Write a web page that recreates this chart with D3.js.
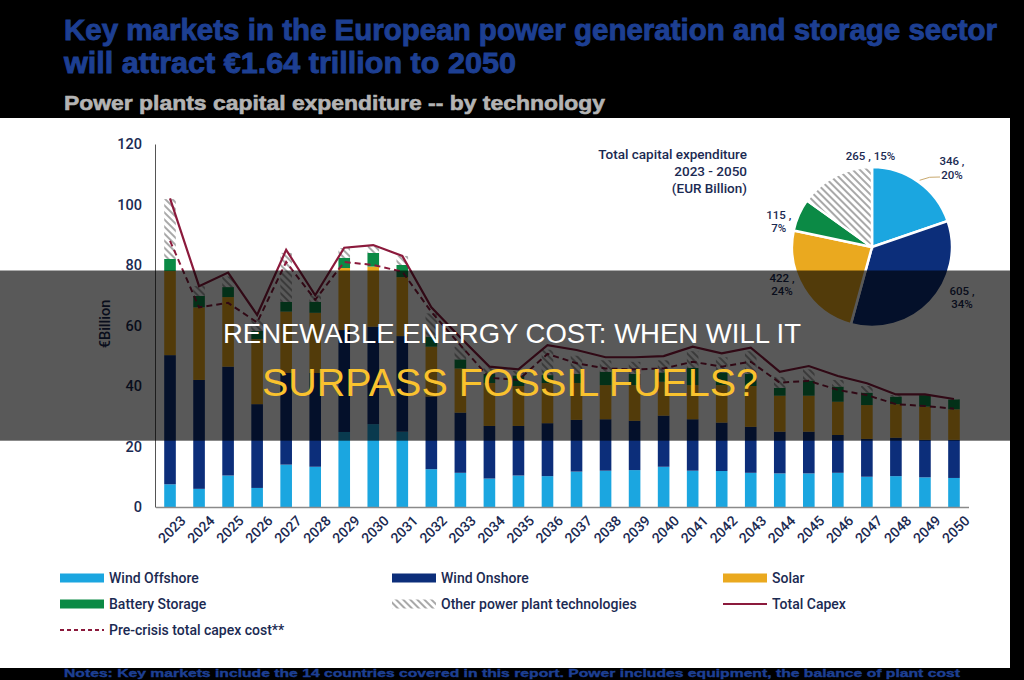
<!DOCTYPE html>
<html><head><meta charset="utf-8">
<script src="https://cdn.jsdelivr.net/npm/d3@7"></script>
<style>body{margin:0;background:#000;overflow:hidden} svg{display:block}</style>
</head><body><svg id="c" width="1024" height="680"></svg>
<script>
// ---------- DATA ----------
const years = ["2023","2024","2025","2026","2027","2028","2029","2030","2031","2032","2033","2034","2035","2036","2037","2038","2039","2040","2041","2042","2043","2044","2045","2046","2047","2048","2049","2050"];
const windOffshore   = [7.5, 6, 10.4, 6.3, 14, 13.3, 24.8, 27.4, 24.9, 12.5, 11.3, 9.4, 10.4, 10.2, 11.7, 12, 12.2, 13.3, 12, 11.9, 11.3, 11.1, 11.1, 11.3, 10, 10.2, 9.8, 9.6];
const windOnshore    = [42.7, 36, 36, 27.7, 30.3, 31, 33.7, 32.2, 31.6, 24, 19.9, 17.4, 16.4, 17.5, 17.1, 17, 16.3, 16.9, 17, 16, 15.2, 13.8, 13.8, 12.5, 12.5, 12.7, 12.4, 12.6];
const solar          = [27.8, 24, 23, 21.5, 20.3, 19.9, 20.5, 19.9, 19.5, 16.5, 14.6, 14.2, 13.2, 13.3, 12.2, 11.3, 11.8, 11.2, 11.3, 12.4, 13.5, 11.9, 11.9, 11, 11.2, 11.1, 11, 10.1];
const batteryStorage = [4, 3.8, 3.3, 2.7, 3.2, 3.6, 3.4, 4.5, 4, 3.3, 3, 3, 3.5, 2.6, 3, 4.4, 3.7, 3.1, 5.7, 4.2, 4, 2.6, 5, 5, 4.1, 2.5, 3.8, 3.3];
const otherTech      = [19.8, 3.2, 3.5, 3.8, 16.2, 2.2, 3.2, 2.5, 3, 7.7, 4.2, 2, 1.5, 8.4, 6, 3.8, 4, 4, 5.5, 5, 7.5, 3.6, 3.7, 2.2, 2.2, 0.5, 0.2, 0.1];
const totalCapex     = [102, 73, 77.5, 63.5, 85, 70, 85.7, 86.6, 83, 66, 56, 46.4, 45.5, 53.5, 51.9, 49.5, 49.5, 49.9, 53, 50.8, 52.7, 44.7, 46.6, 43.3, 40.9, 37.2, 37.2, 35.7];
const preCrisisCapex = [88, 66, 67.5, 61, 81, 68.5, 81, 80, 77.8, 64.5, 53.5, 42.7, 42, 50.6, 47.5, 45.8, 45.5, 45.8, 48, 46.4, 48, 41.1, 41.7, 38.7, 37, 34, 33.4, 32.5];
const yTicks = [0, 20, 40, 60, 80, 100, 120];

const seriesNames = ["Wind Offshore", "Wind Onshore", "Solar", "Battery Storage", "Other power plant technologies"];
const pieValues   = [346, 605, 422, 115, 265];
const piePercents = ["20%", "34%", "24%", "7%", "15%"];

// ---------- STYLE ----------
const colors = {
  "Wind Offshore": "#1ba6e0",
  "Wind Onshore": "#0c2e7a",
  "Solar": "#eaa91f",
  "Battery Storage": "#0b8a45",
  "Other power plant technologies": "url(#hatch)"
};
const lineColor = "#8b1a3c";
const navy = "#1b2a52";
const titleBlue = "#1d3f92";

const svg = d3.select("#c");
const defs = svg.append("defs");
const pat = defs.append("pattern").attr("id","hatch").attr("patternUnits","userSpaceOnUse")
  .attr("width",5).attr("height",5).attr("patternTransform","rotate(-45)");
pat.append("rect").attr("width",5).attr("height",5).attr("fill","#fff");
pat.append("line").attr("x1",1).attr("y1",0).attr("x2",1).attr("y2",5).attr("stroke","#a9a9a9").attr("stroke-width",2);

// background
svg.append("rect").attr("width",1024).attr("height",680).attr("fill","#000");
svg.append("rect").attr("x",0).attr("y",118).attr("width",1010).attr("height",550).attr("fill","#fff");

// header
const head = (txt, yy, size, len, fill, sw) => svg.append("text").attr("x",64).attr("y",yy)
  .attr("font-family","Liberation Sans, Arial, sans-serif").attr("font-weight","bold")
  .attr("font-size",size).attr("fill",fill).attr("stroke",fill).attr("stroke-width",sw)
  .attr("textLength",len).attr("lengthAdjust","spacingAndGlyphs").text(txt);
head("Key markets in the European power generation and storage sector", 40, 29, 933, titleBlue, 0.9);
head("will attract €1.64 trillion to 2050", 73, 29, 452, titleBlue, 0.9);
head("Power plants capital expenditure -- by technology", 110, 21, 541, "#b4b4b4", 0.6);
head("Notes: Key markets include the 14 countries covered in this report. Power includes equipment, the balance of plant cost", 677, 11.5, 896, titleBlue, 0.4);

// ---------- SCALES ----------
const x = d3.scaleBand().domain(years).range([155.5, 968.5]).paddingInner(0.6).paddingOuter(0.3);
const y = d3.scaleLinear().domain([0, 120]).range([507, 144]);
const bw = x.bandwidth();

// axes
const yAxis = svg.append("g").attr("transform","translate(155,0)")
  .call(d3.axisLeft(y).tickValues(yTicks).tickSize(0).tickPadding(13));
yAxis.select(".domain").attr("stroke","#555").attr("stroke-width",1);
yAxis.selectAll("text").attr("font-family","Roboto, sans-serif").attr("font-size",14.5)
  .attr("font-weight",500).attr("fill",navy);

svg.append("text").attr("transform","translate(110,324) rotate(-90)").attr("text-anchor","middle")
  .attr("font-family","Roboto, sans-serif").attr("font-size",14.5).attr("font-weight",500).attr("fill",navy)
  .text("€Billion");

// stacked bars
const rows = years.map((yr, i) => ({
  year: yr,
  "Wind Offshore": windOffshore[i],
  "Wind Onshore": windOnshore[i],
  "Solar": solar[i],
  "Battery Storage": batteryStorage[i],
  "Other power plant technologies": otherTech[i]
}));
const stacked = d3.stack().keys(seriesNames)(rows);
svg.append("g").selectAll("g").data(stacked).join("g")
  .attr("fill", d => colors[d.key])
  .selectAll("rect").data(d => d).join("rect")
  .attr("x", d => x(d.data.year)).attr("width", bw)
  .attr("y", d => y(d[1])).attr("height", d => y(d[0]) - y(d[1]));

// x axis
const xAxis = svg.append("g").attr("transform","translate(0,507)")
  .call(d3.axisBottom(x).tickSize(0).tickPadding(8));
xAxis.select(".domain").attr("stroke","#8a8a8a").attr("stroke-width",1.5);
xAxis.selectAll("text").attr("font-family","Roboto, sans-serif").attr("font-size",14)
  .attr("font-weight",500).attr("fill",navy).attr("text-anchor","end")
  .attr("transform","translate(5,3) rotate(-45)").attr("dy","0.6em");

// lines
const line = d3.line().x((d, i) => x(years[i]) + bw / 2).y(d => y(d));
svg.append("path").datum(preCrisisCapex).attr("d", line).attr("fill","none")
  .attr("stroke", lineColor).attr("stroke-width",2).attr("stroke-dasharray","6,4");
svg.append("path").datum(totalCapex).attr("d", line).attr("fill","none")
  .attr("stroke", lineColor).attr("stroke-width",2.2).attr("stroke-linejoin","miter");

// ---------- PIE ----------
const pieG = svg.append("g").attr("transform","translate(872,247)");
const pie = d3.pie().sort(null).value(d => d)(pieValues);
const arc = d3.arc().innerRadius(0).outerRadius(80);
pieG.selectAll("path").data(pie).join("path")
  .attr("d", arc).attr("fill", (d, i) => colors[seriesNames[i]])
  .attr("stroke","#fff").attr("stroke-width",2.5);
// label layout (angle in degrees clockwise from top, radius)
const labelLayout = [[45, 113, "two"], [119, 103, "two"], [248, 97, "two"], [286, 97, "two"], [359, 87, "one"]];
pie.forEach((d, i) => {
  const [ang, r, mode] = labelLayout[i];
  const a = ang * Math.PI / 180;
  const lx = Math.sin(a) * r, ly = -Math.cos(a) * r;
  const t = pieG.append("text").attr("x", lx).attr("y", ly).attr("text-anchor","middle")
    .attr("font-family","Roboto, sans-serif").attr("font-size",11.5).attr("font-weight",500).attr("fill",navy);
  if (mode === "one") {
    t.text(pieValues[i] + " , " + piePercents[i]);
  } else {
    t.append("tspan").attr("x", lx).attr("dy","-0.15em").text(pieValues[i] + " ,");
    t.append("tspan").attr("x", lx).attr("dy","1.15em").text(piePercents[i]);
  }
});
// leader line for first label
{
  const m = (pie[0].startAngle + pie[0].endAngle) / 2;
  const p0 = [Math.sin(m) * 82, -Math.cos(m) * 82];
  pieG.append("path").attr("d", d3.line()([p0, [p0[0] + 10, p0[1] - 3], [68, -70]]))
    .attr("fill","none").attr("stroke","#c9a96e").attr("stroke-width",1);
}
svg.append("g").selectAll("text").data(["Total capital expenditure", "2023 - 2050", "(EUR Billion)"]).join("text")
  .attr("x", 747).attr("y", (d, i) => 159 + i * 17).attr("text-anchor","end")
  .attr("font-family","Roboto, sans-serif").attr("font-size",13.5).attr("font-weight",500).attr("fill",navy)
  .text(d => d);

// ---------- LEGEND ----------
const legendItems = [
  {name: "Wind Offshore", type: "rect"},
  {name: "Wind Onshore", type: "rect"},
  {name: "Solar", type: "rect"},
  {name: "Battery Storage", type: "rect"},
  {name: "Other power plant technologies", type: "rect"},
  {name: "Total Capex", type: "line"},
  {name: "Pre-crisis total capex cost**", type: "dash"}
];
const colX = [60, 392, 723];
const rowY = [578, 604, 630];
const lg = svg.append("g").selectAll("g").data(legendItems).join("g")
  .attr("transform", (d, i) => `translate(${colX[i % 3]},${rowY[Math.floor(i / 3)]})`);
lg.each(function(d) {
  const g = d3.select(this);
  if (d.type === "rect") {
    g.append("rect").attr("x",0).attr("y",-4.5).attr("width",44).attr("height",9).attr("fill", colors[d.name]);
  } else {
    g.append("line").attr("x1",0).attr("x2",44).attr("y1",0).attr("y2",0)
      .attr("stroke", lineColor).attr("stroke-width",2).attr("stroke-dasharray", d.type === "dash" ? "4,3" : null);
  }
  g.append("text").attr("x",49).attr("y",0).attr("dy","0.35em")
    .attr("font-family","Roboto, sans-serif").attr("font-size",14).attr("font-weight",500).attr("fill",navy)
    .text(d.name);
});

// ---------- OVERLAY ----------
svg.append("rect").attr("x",0).attr("y",270.5).attr("width",1024).attr("height",170.2).attr("fill","rgba(0,0,0,0.65)");
svg.append("text").attr("x",512).attr("y",343).attr("text-anchor","middle")
  .attr("font-family","Liberation Sans, Arial, sans-serif").attr("font-size",27.5).attr("fill","#fff")
  .text("RENEWABLE ENERGY COST: WHEN WILL IT");
svg.append("text").attr("x",510).attr("y",396).attr("text-anchor","middle")
  .attr("font-family","Liberation Sans, Arial, sans-serif").attr("font-size",39.5).attr("fill","#f9c22e")
  .text("SURPASS FOSSIL FUELS?");
</script></body></html>
